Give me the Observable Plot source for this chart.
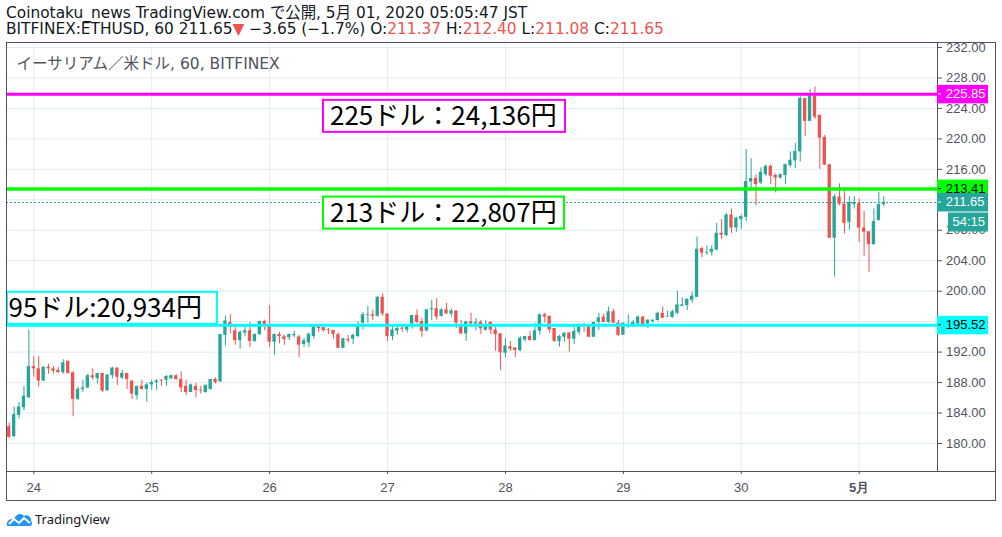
<!DOCTYPE html>
<html><head><meta charset="utf-8">
<script src="https://cdn.jsdelivr.net/npm/d3@7"></script>
<script src="https://cdn.jsdelivr.net/npm/@observablehq/plot@0.6"></script>
<style>
body{margin:0;background:#fff;}
#wrap{position:relative;width:1002px;height:537px;overflow:hidden;font-family:"DejaVu Sans","Noto Sans CJK JP",sans-serif;color:#131722;}
.hdr{position:absolute;left:6px;font-size:15.4px;line-height:19px;white-space:nowrap;}
.red{color:#ef5350;}
#chart{position:absolute;left:0;top:42px;}
#outer{position:absolute;left:6px;top:42px;width:990px;height:459px;box-sizing:border-box;border:1px solid #50535e;pointer-events:none;}
#sep{position:absolute;left:937px;top:471px;width:58px;height:1px;background:#50535e;}
#footer{position:absolute;left:6px;top:510px;display:flex;align-items:center;font-family:"Noto Sans",sans-serif;font-size:13px;}
</style></head>
<body><div id="wrap">
<div class="hdr" style="top:4px">Coinotaku_news TradingView.com で公開, 5月 01, 2020 05:05:47 JST</div>
<div class="hdr" style="top:20px">BITFINEX:ETHUSD, 60 211.65<span class="red">▼</span> −3.65 (−1.7%) O:<span class="red">211.37</span> H:<span class="red">212.40</span> L:<span class="red">211.08</span> C:<span class="red">211.65</span></div>
<div id="chart"></div>
<div id="outer"></div>
<div id="sep"></div>
<div id="footer"><svg width="27" height="16" viewBox="0 0 27 16"><path d="M1 15 C0 10 4 7 8 9 C9 3 15 1 18 5 C21 3 26 6 25 10 C27 12 26 15 24 15 Z" fill="#2196f3"/><polyline points="3,13 8,8 13,12 18,7 24,12" stroke="#fff" stroke-width="2" fill="none"/></svg><span style="margin-left:2px">TradingView</span></div>
</div>
<script>
// ---- data (hourly candles, JST wall clock, first candle 2020-04-23 19:00) ----
const firstCandle = Date.UTC(2020, 3, 23, 19);
const open = [
182.2,180.9,183.7,184.7,186.0,190.1,189.8,188.2,190.0,189.8,189.6,189.3,190.8,189.3,185.8,187.1,187.3,188.9,188.5,189.2,
186.9,188.9,189.9,188.6,189.2,188.2,186.3,187.5,187.1,187.7,188.0,188.3,188.3,188.5,188.9,188.4,187.5,186.7,187.5,187.0,
186.7,187.1,188.4,188.1,194.2,195.9,194.8,193.5,194.5,194.8,193.4,194.3,196.0,195.4,193.3,194.3,194.0,193.9,194.15,194.0,
193.0,193.2,194.05,195.35,195.2,194.95,194.85,194.3,192.5,193.65,193.7,194.05,195.8,196.8,196.9,196.7,199.2,197.0,194.05,194.75,
195.15,194.9,195.7,196.8,196.0,194.8,197.55,197.7,196.7,197.55,197.0,197.4,195.5,194.4,195.97,195.7,195.9,194.85,195.9,194.9,
194.4,191.85,192.7,192.55,192.2,193.6,194.05,193.5,194.75,196.9,196.7,195.1,193.4,193.95,194.5,193.7,194.6,195.45,195.45,193.95,
195.9,196.6,195.9,197.3,195.8,194.2,195.3,195.5,195.7,196.6,195.7,196.0,196.15,197.1,196.6,196.55,197.1,198.0,198.1,198.8,
199.2,205.6,205.0,205.1,205.4,207.6,207.3,210.0,208.3,209.4,209.7,214.35,214.8,214.2,215.3,216.4,215.2,214.85,215.2,216.5,
217.1,218.3,225.3,222.3,225.65,223.1,220.2,216.6,206.96,212.35,211.4,209.05,211.4,211.5,208.3,207.8,206.1,209.3,211.37];
const high = [
182.7,184.8,185.4,187.5,194.9,191.4,191.4,190.1,190.4,190.1,190.0,191.0,190.8,189.4,187.4,188.3,189.1,189.8,189.2,189.2,
189.0,190.0,189.9,189.6,189.2,188.2,187.5,188.3,187.9,188.3,188.4,188.4,188.9,189.0,189.0,189.4,188.3,187.8,187.9,187.5,
187.7,188.4,188.6,194.3,196.7,196.9,195.3,194.8,195.3,195.9,194.4,196.1,196.2,198.1,194.4,194.6,194.2,194.4,194.75,194.2,
193.8,194.5,195.4,195.35,195.35,195.1,194.85,194.5,193.75,194.2,194.4,196.0,197.2,198.0,197.55,199.3,199.65,197.0,195.3,195.3,
195.35,195.5,196.8,197.55,196.4,197.55,198.8,199.0,197.7,198.4,197.7,197.4,196.15,196.06,197.1,196.4,196.15,196.15,196.0,195.3,
194.4,193.8,193.4,192.55,194.05,194.1,194.7,195.8,197.0,197.1,196.7,195.1,194.2,194.5,194.6,195.3,195.7,195.8,195.45,195.9,
197.1,197.0,197.9,197.6,196.2,195.8,196.9,196.2,196.75,196.7,196.2,196.2,197.25,197.9,197.4,197.5,200.0,199.1,198.95,199.85,
207.1,205.8,205.9,206.0,208.9,209.4,210.2,210.8,209.7,210.0,218.6,217.4,215.3,216.2,216.55,216.6,215.4,215.4,216.7,218.3,
219.4,225.65,225.3,226.5,226.8,223.1,220.45,216.6,212.7,214.1,213.1,212.4,212.4,212.1,210.5,207.8,210.8,212.95,212.40];
const low = [
180.7,180.8,183.2,184.3,185.9,188.7,187.4,188.1,189.1,189.1,189.2,189.1,189.1,183.5,185.6,186.7,187.2,188.3,187.8,186.7,
186.9,188.5,187.6,188.4,187.1,185.8,185.7,187.0,185.4,187.0,187.0,187.5,187.5,188.4,188.3,186.7,186.3,186.7,186.0,186.5,
186.6,187.0,187.8,188.0,192.8,194.4,192.9,192.4,194.0,192.6,193.3,194.2,194.8,192.6,191.6,193.1,192.9,193.5,193.9,191.3,
192.6,192.6,193.7,194.5,194.6,194.3,193.7,192.5,192.5,193.2,193.0,193.9,194.9,195.8,196.15,196.6,196.7,193.4,193.5,194.2,
194.6,194.5,195.0,195.7,193.95,194.6,196.2,196.2,196.6,197.0,196.6,195.1,194.3,193.4,195.2,194.8,194.3,194.75,194.3,192.1,
189.6,191.25,192.1,191.3,192.0,193.3,193.5,193.5,194.2,195.8,194.5,193.3,192.65,193.3,192.0,193.0,194.2,194.6,193.95,193.95,
194.8,195.9,195.8,195.8,194.05,194.2,195.1,195.2,195.6,195.3,195.05,195.8,196.05,196.45,196.6,196.45,196.9,198.0,197.45,198.4,
199.2,204.4,204.7,204.6,205.3,206.8,207.2,207.6,207.75,208.1,209.1,213.4,211.2,214.0,215.1,214.0,212.9,214.7,214.0,216.2,
216.1,216.95,220.3,222.3,222.55,216.0,216.55,206.96,201.85,211.2,207.5,208.0,210.8,206.4,204.6,202.5,206.1,209.2,211.08];
const close = [
180.8,183.8,184.8,186.2,190.1,189.8,188.2,190.0,189.8,189.5,189.3,190.6,189.2,185.8,187.1,187.3,188.9,188.6,189.2,186.9,
189.0,189.9,188.7,189.2,188.4,186.5,187.5,187.1,187.7,188.0,188.2,188.2,188.8,188.9,188.4,187.3,186.7,187.7,186.95,186.9,
187.6,188.4,188.0,194.3,196.1,195.3,193.5,194.6,194.8,193.4,194.3,196.0,195.4,193.3,194.3,194.05,193.65,194.3,194.3,192.9,
193.5,194.35,195.35,195.1,194.8,194.85,194.3,192.5,193.75,193.5,194.2,195.45,196.9,196.9,196.7,199.2,197.0,194.05,194.9,195.1,
195.0,195.35,196.8,195.9,194.7,197.55,197.7,196.6,197.55,197.0,197.4,195.8,194.4,195.97,195.7,195.9,195.05,195.45,194.9,194.3,
191.9,192.8,192.4,192.2,193.8,194.05,193.5,194.8,196.9,196.6,194.9,193.4,194.05,194.5,193.7,194.7,195.45,195.3,193.95,195.9,
196.5,195.9,197.3,195.8,194.2,195.8,195.4,195.9,196.6,195.35,196.2,196.2,197.1,196.45,196.7,197.3,198.2,198.2,198.95,199.35,
205.5,205.0,205.1,205.5,207.6,207.35,210.0,208.3,209.6,209.8,214.4,214.8,214.0,215.6,216.4,215.1,214.85,215.3,216.6,217.2,
218.35,225.3,222.3,225.65,222.85,220.1,216.55,206.96,212.4,211.4,208.9,211.65,211.65,208.3,207.75,206.1,209.15,211.37,211.65];

const dayLabels = ["24","25","26","27","28","29","30","5月"];
const priceTicks = [180,184,188,192,196,200,204,208,212,216,220,224,228,232];
const levelValues = [225.85, 213.41, 195.52];
const levelColors = ["#ff00ff", "#00ff00", "#00ffff"];
const levelTextColors = ["#ffffff", "#000000", "#000000"];
const lastPrice = 211.65;
const countdown = "54:15";
const notes = ["225ドル：24,136円", "213ドル：22,807円", "95ドル:20,934円"];
const watermark = "イーサリアム／米ドル, 60, BITFINEX";

// ---- build ----
const HOUR = 3600e3;
const UP = "#26a69a", DOWN = "#ef5350";
const candles = open.map((o, i) => ({t: new Date(firstCandle + i * HOUR), o, h: high[i], l: low[i], c: close[i]}));
const dayTicks = dayLabels.map((_, i) => new Date(Date.UTC(2020, 3, 24 + i)));
const levels = levelValues.map((v, i) => ({v, color: levelColors[i]}));
const day0 = Date.UTC(2020, 3, 24);
const axisFont = '"Liberation Sans Narrow","Arial Narrow","Liberation Sans",sans-serif';

const chart = Plot.plot({
  width: 1002, height: 458,
  marginLeft: 6, marginRight: 65, marginTop: 0, marginBottom: 29,
  x: {type: "utc", domain: [new Date(day0 - 5.557 * HOUR), new Date(day0 + 183.94 * HOUR)]},
  y: {domain: [176.32, 232.66]},
  color: {type: "identity"},
  style: {fontFamily: axisFont, fontSize: "13px", color: "#50535e", background: "transparent", overflow: "visible"},
  marks: [
    Plot.gridX(dayTicks, {stroke: "#e1ecf2", strokeOpacity: 1}),
    Plot.gridY(priceTicks, {stroke: "#e1ecf2", strokeOpacity: 1}),
    Plot.text([watermark], {frameAnchor: "top-left", dx: 10, dy: 15, fontSize: 15.5, fill: "#50535e", fontFamily: '"DejaVu Sans","Noto Sans CJK JP",sans-serif'}),
    Plot.ruleY([lastPrice], {stroke: UP, strokeDasharray: "2,2", strokeWidth: 1}),
    Plot.ruleX(candles, {x: "t", y1: "l", y2: "h", stroke: d => d.c >= d.o ? UP : DOWN, strokeWidth: 1}),
    Plot.rect(candles, {x1: d => new Date(+d.t - 0.34 * HOUR), x2: d => new Date(+d.t + 0.34 * HOUR), y1: "o", y2: "c", fill: d => d.c >= d.o ? UP : DOWN}),
    Plot.ruleY(levels, {y: "v", stroke: "color", strokeWidth: d => d.color === "#00ff00" ? 3.5 : 3}),
    Plot.axisX({ticks: dayTicks, tickFormat: d => dayLabels[dayTicks.findIndex(t => +t === +d)], tickSize: 3, tickPadding: 8.5, fontSize: 13, label: null}),
    Plot.axisY({anchor: "right", ticks: priceTicks, tickFormat: d => d.toFixed(2), tickSize: 4, tickPadding: 4.5, fontSize: 13, label: null}),
    Plot.frame({stroke: "#50535e"})
  ]
});

const svg = d3.select(chart);
svg.selectAll("text").filter(function(){ return this.textContent === "5月"; }).attr("font-weight", "bold");
// axis labels fully hidden behind the opaque price badges
svg.selectAll("text").filter(function(){ return this.textContent === "212.00" || this.textContent === "196.00"; }).remove();
const y = chart.scale("y");
const Y = v => y.apply(v);

// annotation boxes
const noteFont = '"Noto Sans CJK JP","Noto Sans",sans-serif';
const boxes = [
  {x: 323, w: 242, top: Y(levelValues[0]) + 6, h: 32, color: levelColors[0], tx: 7, text: notes[0]},
  {x: 323, w: 241, top: Y(levelValues[1]) + 8, h: 32, color: levelColors[1], tx: 7, text: notes[1]},
  {x: 7, w: 210, top: Y(levelValues[2]) - 33, h: 32, color: levelColors[2], tx: 1.5, text: notes[2]}
];
const g = svg.append("g").attr("text-anchor", "start");
boxes.forEach(b => {
  g.append("rect").attr("x", b.x).attr("y", b.top).attr("width", b.w).attr("height", b.h)
    .attr("fill", "#fff").attr("stroke", b.color).attr("stroke-width", 2);
  g.append("text").attr("x", b.x + b.tx).attr("y", b.top + 25.5).attr("font-family", noteFont)
    .attr("font-size", 26).attr("fill", "#000").text(b.text);
});

// price badges on the axis
const badges = levelValues.map((v, i) => ({v, fill: levelColors[i], tc: levelTextColors[i], label: v.toFixed(2)}))
  .concat([{v: lastPrice, fill: UP, tc: "#fff", label: lastPrice.toFixed(2)}]);
badges.forEach(b => {
  const cy = Y(b.v);
  g.append("rect").attr("x", 937).attr("y", cy - 9).attr("width", 51).attr("height", 18.5).attr("fill", b.fill);
  g.append("line").attr("x1", 938).attr("x2", 941).attr("y1", cy).attr("y2", cy).attr("stroke", b.tc);
  g.append("text").attr("x", 945.7).attr("y", cy).attr("dy", "0.34em").attr("font-family", axisFont)
    .attr("font-size", 13).attr("fill", b.tc).text(b.label);
});
const cd = Y(lastPrice) + 10.5;
g.append("rect").attr("x", 948).attr("y", cd).attr("width", 40).attr("height", 19).attr("fill", UP);
g.append("text").attr("x", 952.5).attr("y", cd + 9.5).attr("dy", "0.34em").attr("font-family", axisFont)
  .attr("font-size", 13).attr("fill", "#fff").text(countdown);

document.getElementById("chart").appendChild(chart);
</script>
</body></html>
